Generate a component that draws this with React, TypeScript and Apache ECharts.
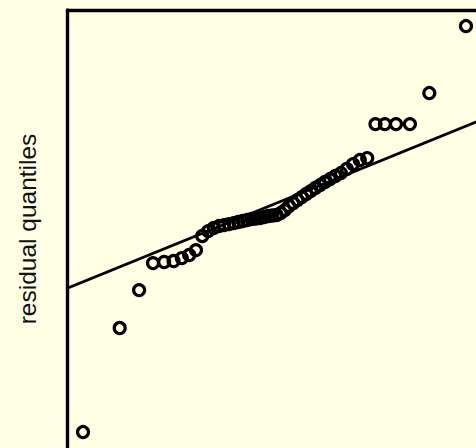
import React, { useEffect, useRef } from "react";
import * as echarts from "echarts";

// theoretical normal quantiles (n = 50)
const theoretical: number[] = [
  -2.3263, -1.8808, -1.6449, -1.4758, -1.3408, -1.2265, -1.1264, -1.0364, -0.9542, -0.8779,
  -0.8064, -0.7388, -0.6745, -0.6128, -0.5534, -0.4959, -0.4399, -0.3853, -0.3319, -0.2793,
  -0.2275, -0.1764, -0.1257, -0.0753, -0.0251, 0.0251, 0.0753, 0.1257, 0.1764, 0.2275,
  0.2793, 0.3319, 0.3853, 0.4399, 0.4959, 0.5534, 0.6128, 0.6745, 0.7388, 0.8064,
  0.8779, 0.9542, 1.0364, 1.1264, 1.2265, 1.3408, 1.4758, 1.6449, 1.8808, 2.3263,
];

// sorted residuals
const residuals: number[] = [
  -2.791, -1.527, -1.066, -0.738, -0.725, -0.713, -0.677, -0.64, -0.58, -0.409,
  -0.349, -0.312, -0.288, -0.276, -0.264, -0.252, -0.239, -0.227, -0.215, -0.203,
  -0.197, -0.191, -0.179, -0.166, -0.16, -0.154, -0.13, -0.094, -0.045, -0.009,
  0.028, 0.064, 0.101, 0.137, 0.174, 0.21, 0.247, 0.283, 0.32, 0.356,
  0.405, 0.465, 0.514, 0.538, 0.951, 0.951, 0.951, 0.951, 1.328, 2.142,
];

// qq reference line
const lineIntercept = -0.02;
const lineSlope = 0.407;
const lineXs: number[] = [-3, 3];

const xRange = [-2.515, 2.448];
const yRange = [-2.985, 2.337];

export default function App() {
  const ref = useRef<HTMLDivElement>(null);
  useEffect(() => {
    if (!ref.current) return;
    const chart = echarts.init(ref.current, null, { renderer: "svg" });
    const points = theoretical.map((x, i) => [x, residuals[i]]);
    const line = lineXs.map((x) => [x, lineIntercept + lineSlope * x]);
    chart.setOption({
      animation: false,
      backgroundColor: "#ffffe6",
      grid: { left: 67.5, top: 10, right: 0, bottom: 0 },
      xAxis: {
        type: "value",
        position: "top",
        min: xRange[0],
        max: xRange[1],
        axisLine: { show: true, onZero: false, lineStyle: { color: "#000", width: 3.4 } },
        axisTick: { show: false },
        axisLabel: { show: false },
        splitLine: { show: false },
      },
      yAxis: {
        type: "value",
        min: yRange[0],
        max: yRange[1],
        name: "residual quantiles",
        nameLocation: "middle",
        nameGap: 28,
        nameTextStyle: { fontSize: 24.5, color: "#111", fontFamily: "Liberation Sans, Arial, sans-serif" },
        axisLine: { show: true, onZero: false, lineStyle: { color: "#000", width: 3.4 } },
        axisTick: { show: false },
        axisLabel: { show: false },
        splitLine: { show: false },
      },
      series: [
        {
          type: "line",
          data: line,
          symbol: "none",
          lineStyle: { color: "#000", width: 2.8 },
          clip: true,
          z: 2,
        },
        {
          type: "scatter",
          data: points,
          symbol: "circle",
          symbolSize: 11,
          itemStyle: { color: "rgba(0,0,0,0)", borderColor: "#000", borderWidth: 3.2, opacity: 1 },
          clip: true,
          z: 3,
        },
      ],
    });
    return () => chart.dispose();
  }, []);
  return (
    <div
      ref={ref}
      style={{ position: "fixed", left: 0, top: 0, width: 476, height: 448 }}
    />
  );
}
